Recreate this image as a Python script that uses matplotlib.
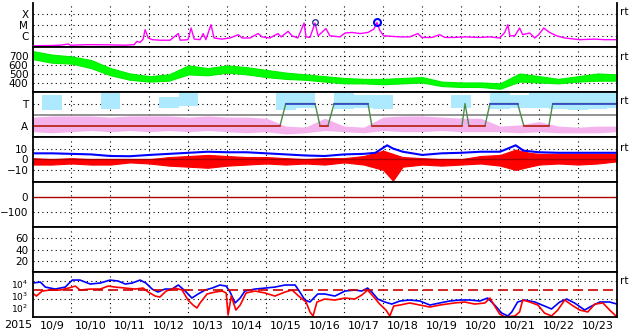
import numpy as np
import matplotlib
matplotlib.use("Agg")
import matplotlib.pyplot as plt
from matplotlib.transforms import blended_transform_factory

# time axis: days since 2015-10-09 00 UT
day_labels = ['10/9', '10/10', '10/11', '10/12', '10/13', '10/14', '10/15', '10/16',
              '10/17', '10/18', '10/19', '10/20', '10/21', '10/22', '10/23']
half_days = np.arange(0, 15.01, 0.5)

# X-ray flux (log10 W/m2)
xray_day = [0.0, 0.45, 0.71, 0.92, 0.97, 1.48, 1.99, 2.38, 2.61, 2.68, 2.76, 2.84, 2.89, 2.97,
            3.07, 3.27, 3.53, 3.74, 3.79, 3.99, 4.07, 4.15, 4.3, 4.38, 4.45, 4.58, 4.66, 4.86,
            5.07, 5.28, 5.38, 5.58, 5.79, 5.89, 6.09, 6.3, 6.38, 6.56, 6.66, 6.81, 6.97, 7.02,
            7.12, 7.25, 7.33, 7.53, 7.63, 7.89, 8.02, 8.2, 8.41, 8.61, 8.76, 8.84, 8.91, 9.01,
            9.22, 9.43, 9.68, 9.89, 9.99, 10.25, 10.45, 10.58, 10.83, 11.09, 11.48, 11.74, 11.99,
            12.12, 12.2, 12.25, 12.38, 12.5, 12.58, 12.76, 12.89, 12.99, 13.12, 13.27, 13.45,
            13.66, 14.04, 14.43, 14.68, 15.0]
xray_exp = [-6.9, -6.88, -6.85, -6.75, -6.85, -6.8, -6.82, -6.85, -6.8, -6.5, -6.6, -6.3, -5.45, -6.2,
            -6.35, -6.4, -6.4, -5.8, -6.4, -6.35, -5.3, -6.3, -6.35, -5.8, -6.35, -5.0, -6.2, -6.3,
            -6.2, -5.9, -6.2, -6.2, -5.8, -6.1, -6.2, -5.8, -6.1, -5.6, -6.0, -6.2, -4.85, -6.1,
            -6.15, -4.85, -6.0, -5.35, -6.0, -6.1, -5.75, -5.7, -5.8, -5.7, -5.4, -4.8, -5.5, -6.0,
            -6.05, -6.1, -6.1, -5.8, -6.15, -6.15, -5.9, -6.15, -6.15, -6.1, -6.15, -6.1, -6.2,
            -5.7, -5.0, -6.0, -6.0, -5.3, -5.9, -5.75, -6.2, -5.9, -5.3, -5.7, -6.0,
            -6.2, -6.35, -6.3, -6.35, -6.35]
flare_day = [7.25, 8.84]
flare_exp = [-4.75, -4.72]

# solar wind speed band (km/s), every half day
speed_lo = [670, 630, 620, 570, 490, 440, 420, 430, 500, 490, 520, 500, 470, 450, 440, 420,
            400, 400, 390, 400, 410, 370, 360, 360, 340, 420, 410, 400, 420, 430, 430]
speed_hi = [760, 720, 700, 660, 570, 510, 480, 500, 600, 570, 600, 580, 550, 520, 500, 480,
            460, 450, 450, 460, 470, 420, 410, 410, 400, 510, 480, 450, 480, 510, 500]

# sector polarity (1 = away, 3 = toward)
pol_day = [0.0, 6.35, 6.5, 7.25, 7.38, 7.58, 7.74, 8.61, 8.71, 11.02, 11.1, 11.2, 11.23,
           11.61, 11.74, 12.45, 12.61, 13.25, 13.35, 15.0]
pol_lvl = [1, 1, 3, 3, 1, 1, 3, 3, 1, 1, 3, 1, 1, 1, 3, 3, 1, 1, 3, 3]
away_lo = [0.5, 0.4, 0.5, 0.6, 0.5, 0.6, 0.5, 0.6, 0.5, 0.6, 0.5, 0.4, 0.5, 0.3, 0.4, 0.6,
           0.5, 0.4, 0.6, 0.5, 0.5, 0.6, 0.5, 0.5, 0.5, 0.4, 0.5, 0.4, 0.4, 0.4, 0.5]
away_hi = [1.8, 1.9, 1.9, 1.9, 1.8, 1.9, 1.9, 1.9, 1.8, 1.9, 1.8, 1.8, 1.7, 1.0, 0.9, 1.7,
           1.0, 0.9, 1.8, 1.9, 1.9, 1.8, 1.7, 1.7, 1.0, 1.1, 1.4, 1.0, 0.9, 1.0, 1.0]
nan = np.nan
toward_lo = [nan, 2.4, nan, nan, 2.5, nan, nan, 2.6, 2.8, nan, nan, nan, nan, 2.4, 2.6, nan,
             2.5, 2.6, 2.5, nan, nan, nan, 2.6, nan, 2.5, 2.6, 2.6, 2.5, 2.4, 2.5, 2.6]
toward_hi = [nan, 3.8, nan, nan, 3.9, nan, nan, 3.6, 3.9, nan, nan, nan, nan, 3.9, 3.9, nan,
             3.9, 3.8, 3.8, nan, nan, nan, 3.8, nan, 3.9, 3.8, 3.9, 3.9, 3.9, 3.9, 3.9]

# IMF (nT)
bt_day = [0, 0.5, 1.0, 1.5, 2.0, 2.5, 3.0, 3.5, 4.0, 4.5, 5.0, 5.5, 6.0, 6.5, 7.0, 7.5, 8.0,
          8.5, 8.8, 9.1, 9.25, 9.5, 10.0, 10.5, 11.0, 11.5, 12.0, 12.4, 12.6, 13.0, 13.5,
          14.0, 14.5, 15.0]
bt_val = [5.5, 5.5, 5.0, 4.5, 3.0, 2.8, 4.0, 5.0, 6.0, 7.0, 6.5, 6.5, 5.5, 4.5, 3.5, 3.0, 4.5,
          5.0, 6.0, 13.0, 10.0, 7.0, 4.0, 5.5, 6.0, 7.0, 7.0, 13.0, 8.0, 6.5, 6.0,
          6.0, 6.0, 6.0]
bz_day = [0, 0.5, 1.0, 1.5, 2.0, 2.5, 3.0, 3.5, 4.0, 4.5, 5.0, 5.5, 6.0, 6.5, 7.0, 7.5, 8.0,
          8.5, 9.0, 9.25, 9.5, 10.0, 10.5, 11.0, 11.5, 12.0, 12.4, 12.75, 13.0, 13.5, 14.0,
          14.5, 15.0]
bz_lo = [-5, -5, -4, -5, -5, -3, -4, -6, -7, -8, -6, -5, -4, -5, -4, -5, -3,
         -5, -10, -20, -7, -5, -6, -5, -4, -6, -10, -7, -5, -4, -5, -4, -2]
bz_hi = [1, 0, 1, 0, 0, 0, 0, 2, 3, 4, 3, 2, 2, 1, 0, 1, 1,
         3, 8, 5, 2, 1, 0, 0, 3, 4, 9, 6, 5, 5, 5, 5, 5]

# electron flux (log10)
e_blue_day = [0.0, 0.2, 0.33, 0.58, 0.84, 1.02, 1.22, 1.48, 1.74, 1.99, 2.2, 2.38, 2.56, 2.76,
              2.91, 3.07, 3.22, 3.4, 3.58, 3.74, 3.92, 4.09, 4.25, 4.43, 4.61, 4.81, 4.97, 5.07,
              5.2, 5.33, 5.45, 5.71, 5.97, 6.22, 6.48, 6.74, 6.86, 6.99, 7.12, 7.32, 7.5, 7.76,
              8.02, 8.27, 8.45, 8.6, 8.71, 8.86, 9.04, 9.22, 9.43, 9.68, 9.94, 10.2, 10.45,
              10.71, 10.97, 11.22, 11.48, 11.68, 11.86, 12.04, 12.2, 12.3, 12.45, 12.63, 12.89,
              13.14, 13.32, 13.53, 13.71, 13.91, 14.17, 14.35, 14.56, 14.81, 15.0]
e_blue_exp = [3.78, 3.89, 3.33, 3.11, 3.33, 4.11, 4.11, 3.67, 3.78, 4.11, 4.0, 3.67, 3.78, 4.11,
              3.78, 3.11, 2.78, 3.11, 3.11, 3.56, 2.89, 2.11, 2.56, 3.0, 3.22, 3.56, 3.44, 2.78,
              1.56, 2.11, 2.89, 3.11, 3.22, 3.33, 3.56, 3.56, 2.78, 1.89, 1.67, 2.56, 2.56, 2.33,
              2.89, 3.0, 2.89, 3.22, 2.78, 2.0, 1.67, 1.44, 1.78, 1.89, 1.78, 1.33, 1.56,
              1.78, 1.89, 1.89, 1.78, 2.11, 1.33, 0.44, 0.11, 0.56, 1.67, 1.89, 1.67,
              1.22, 0.89, 1.67, 2.0, 1.56, 0.78, 1.22, 1.67, 1.67, 1.44]
e_red_day = [0.0, 0.1, 0.25, 0.45, 0.71, 0.92, 1.1, 1.22, 1.48, 1.74, 1.94, 2.12, 2.38, 2.63,
             2.84, 2.97, 3.15, 3.27, 3.43, 3.66, 3.84, 3.99, 4.12, 4.22, 4.3, 4.48, 4.69, 4.87,
             4.97, 5.02, 5.1, 5.22, 5.33, 5.48, 5.71, 5.97, 6.22, 6.48, 6.66, 6.86, 7.02, 7.12,
             7.2, 7.3, 7.5, 7.76, 8.02, 8.27, 8.45, 8.6, 8.76, 8.91, 9.07, 9.17, 9.27, 9.43,
             9.68, 9.94, 10.2, 10.45, 10.83, 11.09, 11.35, 11.61, 11.74, 11.86, 11.99, 12.12,
             12.38, 12.5, 12.58, 12.76, 12.97, 13.14, 13.32, 13.48, 13.66, 13.84, 14.04, 14.25,
             14.43, 14.64, 14.81, 15.0]
e_red_exp = [2.67, 2.33, 2.89, 3.0, 3.0, 3.22, 3.44, 3.0, 3.11, 3.11, 3.44, 3.33, 3.22, 3.11,
             3.22, 2.78, 2.33, 2.22, 2.89, 3.22, 3.0, 1.89, 1.33, 1.0, 1.56, 2.56, 2.78, 2.89,
             2.67, 0.22, 2.33, 0.78, 1.33, 2.67, 2.89, 2.67, 2.33, 2.78, 3.0, 2.22, 1.67, 0.56,
             0.11, 1.67, 2.0, 1.89, 2.11, 2.0, 2.44, 3.0, 2.22, 1.44, 0.78, 0.11, 1.22, 1.33,
             1.56, 1.33, 1.11, 1.33, 1.56, 1.67, 1.44, 1.56, 2.11, 1.22, 0.33, 0.0,
             0.11, 0.56, 1.89, 1.67, 1.33, 0.44, 0.11, 0.78, 1.89, 1.33, 0.78, 0.56,
             1.44, 1.56, 0.78, 0.0]

DOT = (0, (1, 3))
FS = 7.5


def dotted_h(ax, ys):
    for y in ys:
        ax.axhline(y, color='k', lw=0.8, ls=DOT, zorder=0.5)


plt.rcParams['font.size'] = FS
fig = plt.figure(figsize=(6.33, 3.34), dpi=100)
gs = fig.add_gridspec(7, 1, left=32.5 / 633, right=617 / 633,
                      bottom=1 - 317 / 334, top=1 - 2.5 / 334, hspace=0)
axes = [fig.add_subplot(gs[i]) for i in range(7)]

for ax in axes:
    ax.set_xlim(0, 15)
    ax.set_xticks([])
    for d in range(1, 15):
        ax.axvline(d, color='k', lw=0.8, ls=DOT, zorder=0.5)
    for s in ax.spines.values():
        s.set_linewidth(1.3)
    ax.tick_params(axis='y', length=0, pad=3, labelsize=FS)
    ax.minorticks_off()
axes[0].spines['top'].set_visible(False)

# 1: X-ray
ax = axes[0]
ax.set_yscale('log')
ax.set_ylim(10 ** -7.05, 1e-3)
ax.plot(xray_day, 10 ** np.array(xray_exp), color='#ff00ff', lw=1)
ax.plot(flare_day[0], 10 ** flare_exp[0], 'o', ms=4, mfc='none', mec='#333399', mew=1)
ax.plot(flare_day[1], 10 ** flare_exp[1], 'o', ms=5, mfc='none', mec='#0000ff', mew=1.5)
ax.set_yticks([1e-6, 1e-5, 1e-4])
ax.set_yticklabels(['C', 'M', 'X'])
ax.minorticks_off()
dotted_h(ax, [1e-6, 1e-5, 1e-4])

# 2: solar wind speed
ax = axes[1]
ax.set_ylim(300, 800)
ax.fill_between(half_days, speed_lo, speed_hi, color='#00ff00', lw=0.8, edgecolor='#00ee00')
ax.set_yticks([400, 500, 600, 700])
dotted_h(ax, [400, 500, 600, 700])

# 3: sector
ax = axes[2]
ax.set_ylim(0, 4)
ax.fill_between(half_days, away_lo, away_hi, color='#f5b3ee', lw=0)
tow_lo_a = np.array(toward_lo)
tow_hi_a = np.array(toward_hi)
ax.bar(half_days, tow_hi_a - tow_lo_a, bottom=tow_lo_a, width=0.5, color='#ade9ff', lw=0)
ax.axhline(2, color='#808080', lw=1.2)
ax.plot(pol_day, pol_lvl, color='#4a8a4a', lw=1)
for i in range(len(pol_day) - 1):
    if pol_lvl[i] == pol_lvl[i + 1]:
        c = '#cc2222' if pol_lvl[i] == 1 else '#3344cc'
        ax.plot(pol_day[i:i + 2], pol_lvl[i:i + 2], color=c, lw=1.2)
ax.set_yticks([1, 3])
ax.set_yticklabels(['A', 'T'])
dotted_h(ax, [3])

# 4: IMF
ax = axes[3]
ax.set_ylim(-21.5, 20.5)
ax.axhline(0, color='#aa0000', lw=1)
ax.fill_between(bz_day, bz_lo, bz_hi, color='#ff0000', lw=0.8, edgecolor='#ff0000')
ax.plot(bt_day, bt_val, color='#0000ff', lw=1.5)
ax.set_yticks([-10, 0, 10])
dotted_h(ax, [-10, 10])

# 5: Dst (no data)
ax = axes[4]
ax.set_ylim(-200, 100)
ax.axhline(0, color='#aa0000', lw=1)
ax.set_yticks([-100, 0])
dotted_h(ax, [-100])

# 6: empty panel
ax = axes[5]
ax.set_ylim(0, 80)
ax.set_yticks([20, 40, 60])
dotted_h(ax, [20, 40, 60])

# 7: electrons
ax = axes[6]
ax.set_yscale('log')
ax.set_ylim(1, 1e5)
ax.plot(e_blue_day, 10 ** np.array(e_blue_exp), color='#0000ff', lw=1.2)
ax.plot(e_red_day, 10 ** np.array(e_red_exp), color='#ff0000', lw=1.2)
ax.axhline(1e3, color='#cc0000', lw=1.2, ls=(0, (6, 3)))
dotted_h(ax, [1e2, 1e4])
ax.set_yticks([])
ax.minorticks_off()
tr = blended_transform_factory(ax.transAxes, ax.transAxes)
for lab, yf in [('$10^4$', 0.71), ('$10^3$', 0.45), ('$10^2$', 0.19)]:
    ax.text(-0.008, yf, lab, transform=tr, ha='right', va='center', fontsize=6.5)
ax.set_xticks(np.arange(15) + 0.5)
ax.set_xticklabels(day_labels)
ax.tick_params(axis='x', length=0, pad=3, labelsize=8)

fig.text(4 / 633, 1 - 325 / 334, '2015', va='center', ha='left', fontsize=8)
for ypx in [12, 57, 101, 148, 281]:
    fig.text(620 / 633, 1 - ypx / 334, 'rt', va='center', ha='left', fontsize=7.5)

fig.savefig('out.png', dpi=100)
